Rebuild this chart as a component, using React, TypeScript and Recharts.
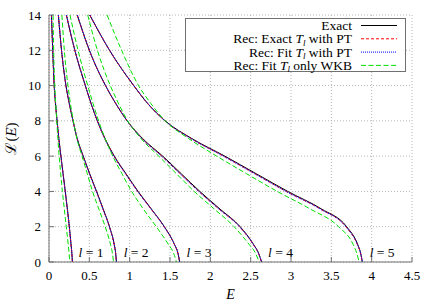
import { LineChart, Line, XAxis, YAxis, CartesianGrid, ReferenceDot } from 'recharts'

const FONT = "'Liberation Serif', 'Times New Roman', serif"

// L(E) levels shared by every curve, top of the plot down to the turning point
const levels = [14, 12, 10, 9, 8, 7, 6, 5, 4, 3, 2, 1, 0.5, 0]
const partialWaves = [1, 2, 3, 4, 5]
const labelE = [0.52, 1.08, 1.86, 2.87, 4.13]
const labelL = 0.55

const xTicks = [0, 0.5, 1, 1.5, 2, 2.5, 3, 3.5, 4, 4.5]
const yTicks = [0, 2, 4, 6, 8, 10, 12, 14]

// E at each level, one row per l
const exactE = [
  [0.03, 0.046, 0.064, 0.08, 0.1, 0.122, 0.148, 0.175, 0.202, 0.228, 0.252, 0.273, 0.283, 0.29],
  [0.116, 0.155, 0.21, 0.25, 0.298, 0.35, 0.425, 0.505, 0.59, 0.672, 0.75, 0.808, 0.826, 0.836],
  [0.215, 0.32, 0.45, 0.52, 0.6, 0.695, 0.81, 0.955, 1.105, 1.27, 1.43, 1.555, 1.598, 1.62],
  [0.35, 0.5, 0.7, 0.825, 0.97, 1.16, 1.41, 1.64, 1.87, 2.12, 2.37, 2.535, 2.598, 2.635],
  [0.505, 0.75, 1.05, 1.22, 1.44, 1.77, 2.18, 2.57, 2.96, 3.38, 3.69, 3.826, 3.863, 3.884],
]

const recExactPtE = [
  [0.03, 0.046, 0.064, 0.08, 0.1, 0.122, 0.147, 0.174, 0.201, 0.227, 0.251, 0.272, 0.283, 0.29],
  [0.116, 0.155, 0.21, 0.25, 0.297, 0.348, 0.422, 0.502, 0.587, 0.669, 0.748, 0.807, 0.826, 0.836],
  [0.215, 0.32, 0.45, 0.52, 0.598, 0.691, 0.805, 0.95, 1.1, 1.266, 1.427, 1.554, 1.598, 1.62],
  [0.35, 0.5, 0.7, 0.825, 0.968, 1.152, 1.398, 1.628, 1.858, 2.108, 2.362, 2.531, 2.596, 2.635],
  [0.505, 0.75, 1.05, 1.22, 1.438, 1.76, 2.165, 2.552, 2.94, 3.365, 3.68, 3.822, 3.862, 3.884],
]

const recFitPtE = [
  [0.031, 0.047, 0.065, 0.081, 0.101, 0.122, 0.147, 0.174, 0.201, 0.227, 0.252, 0.273, 0.284, 0.291],
  [0.117, 0.156, 0.211, 0.251, 0.297, 0.348, 0.422, 0.502, 0.587, 0.669, 0.749, 0.808, 0.827, 0.837],
  [0.216, 0.321, 0.451, 0.521, 0.598, 0.69, 0.804, 0.949, 1.099, 1.266, 1.428, 1.555, 1.599, 1.621],
  [0.352, 0.502, 0.702, 0.826, 0.968, 1.15, 1.395, 1.626, 1.856, 2.107, 2.362, 2.532, 2.597, 2.637],
  [0.507, 0.752, 1.052, 1.222, 1.438, 1.758, 2.162, 2.55, 2.938, 3.363, 3.68, 3.823, 3.863, 3.886],
]

const recFitWkbE = [
  [0.05, 0.058, 0.072, 0.083, 0.096, 0.11, 0.126, 0.145, 0.166, 0.19, 0.214, 0.238, 0.249, 0.258],
  [0.16, 0.19, 0.235, 0.265, 0.302, 0.345, 0.41, 0.475, 0.54, 0.618, 0.697, 0.762, 0.786, 0.8],
  [0.26, 0.36, 0.48, 0.545, 0.615, 0.695, 0.79, 0.905, 1.025, 1.17, 1.33, 1.48, 1.545, 1.58],
  [0.48, 0.6, 0.76, 0.86, 0.975, 1.14, 1.36, 1.58, 1.8, 2.05, 2.295, 2.48, 2.56, 2.605],
  [0.72, 0.9, 1.11, 1.26, 1.44, 1.73, 2.08, 2.45, 2.83, 3.24, 3.59, 3.77, 3.815, 3.845],
]

const series = [
  { key: 'exact', values: exactE, color: '#000000', dash: undefined as string | undefined },
  { key: 'recExactPt', values: recExactPtE, color: '#ff0000', dash: '3 2' },
  { key: 'recFitPt', values: recFitPtE, color: '#0000ff', dash: '1 1' },
  { key: 'recFitWkb', values: recFitWkbE, color: '#00e000', dash: '5 2.5' },
]

const frame = '#707070'
const tickStyle = { fill: '#000', fontSize: 13, style: { fontFamily: FONT } }

function curve(values: number[]) {
  return levels.map((L, k) => ({ E: values[k], L }))
}

function LegendBox() {
  const rows = [
    { color: '#000000', dash: undefined as string | undefined, pre: 'Exact', post: '' },
    { color: '#ff0000', dash: '3 2', pre: 'Rec: Exact ', post: ' with PT' },
    { color: '#0000ff', dash: '1 1', pre: 'Rec: Fit ', post: ' with PT' },
    { color: '#00e000', dash: '5 2.5', pre: 'Rec: Fit ', post: ' only WKB' },
  ]
  return (
    <svg
      width={436}
      height={305}
      style={{ position: 'absolute', left: 0, top: 0, pointerEvents: 'none', fontFamily: FONT }}
    >
      <rect x={185.5} y={18.5} width={220} height={53} fill="#fff" stroke={frame} />
      {rows.map((r, i) => {
        const base = 30 + i * 13.3
        return (
          <g key={i}>
            <text x={352} y={base} textAnchor="end" fontSize={13.5}>
              {r.pre}
              {r.post && <tspan fontStyle="italic">T</tspan>}
              {r.post && (
                <tspan fontStyle="italic" fontSize={9} dy={2.5}>
                  l
                </tspan>
              )}
              {r.post && <tspan dy={-2.5}>{r.post}</tspan>}
            </text>
            <line
              x1={361}
              x2={397}
              y1={base - 4.5}
              y2={base - 4.5}
              stroke={r.color}
              strokeDasharray={r.dash}
            />
          </g>
        )
      })}
    </svg>
  )
}

export default function App() {
  return (
    <div
      style={{
        position: 'absolute',
        left: 0,
        top: 0,
        width: 436,
        height: 305,
        background: '#fff',
        fontFamily: FONT,
      }}
    >
      <LineChart
        width={436}
        height={305}
        margin={{ top: 15, right: 24, left: 0, bottom: 0 }}
        style={{ fontFamily: FONT }}
      >
        <CartesianGrid stroke="#b4b4b4" strokeDasharray="1 2" />
        <XAxis
          dataKey="E"
          type="number"
          domain={[0, 4.5]}
          ticks={xTicks}
          interval={0}
          height={43}
          tick={tickStyle}
          tickSize={-5}
          tickMargin={14}
          axisLine={{ stroke: frame }}
          tickLine={{ stroke: frame }}
          allowDataOverflow
          label={({ viewBox }: any) => (
            <text
              x={viewBox.x + viewBox.width / 2}
              y={viewBox.y + 37}
              textAnchor="middle"
              fontSize={14}
              fontStyle="italic"
              style={{ fontFamily: FONT }}
            >
              E
            </text>
          )}
        />
        <XAxis
          xAxisId="top"
          orientation="top"
          type="number"
          domain={[0, 4.5]}
          ticks={xTicks}
          interval={0}
          height={0}
          tick={false}
          tickSize={-5}
          axisLine={{ stroke: frame }}
          tickLine={{ stroke: frame }}
          allowDataOverflow
        />
        <YAxis
          type="number"
          domain={[0, 14]}
          ticks={yTicks}
          interval={0}
          width={49}
          tick={tickStyle}
          tickSize={-5}
          tickMargin={13}
          axisLine={{ stroke: frame }}
          tickLine={{ stroke: frame }}
          allowDataOverflow
          label={({ viewBox }: any) => {
            const cx = 13
            const cy = viewBox.y + viewBox.height / 2
            return (
              <text
                x={cx}
                y={cy}
                transform={`rotate(-90 ${cx} ${cy})`}
                textAnchor="middle"
                dominantBaseline="middle"
                fontSize={15}
                style={{ fontFamily: FONT }}
              >
                ℒ(<tspan fontStyle="italic">E</tspan>)
              </text>
            )
          }}
        />
        <YAxis
          yAxisId="right"
          orientation="right"
          type="number"
          domain={[0, 14]}
          ticks={yTicks}
          interval={0}
          width={0}
          tick={false}
          tickSize={-5}
          axisLine={{ stroke: frame }}
          tickLine={{ stroke: frame }}
          allowDataOverflow
        />
        {series.map((s) =>
          partialWaves.map((l, i) => (
            <Line
              key={`${s.key}-${l}`}
              data={curve(s.values[i])}
              dataKey="L"
              type="monotone"
              stroke={s.color}
              strokeWidth={1}
              strokeDasharray={s.dash}
              dot={false}
              activeDot={false}
              isAnimationActive={false}
            />
          ))
        )}
        {partialWaves.map((l, i) => (
          <ReferenceDot
            key={`lab-${l}`}
            x={labelE[i]}
            y={labelL}
            r={0}
            stroke="none"
            fill="none"
            label={({ viewBox }: any) => (
              <text
                x={viewBox.x}
                y={viewBox.y + 4.5}
                textAnchor="middle"
                fontSize={13.5}
                style={{ fontFamily: FONT }}
              >
                <tspan fontStyle="italic">l</tspan>
                {' = '}
                {l}
              </text>
            )}
          />
        ))}
      </LineChart>
      <LegendBox />
    </div>
  )
}
